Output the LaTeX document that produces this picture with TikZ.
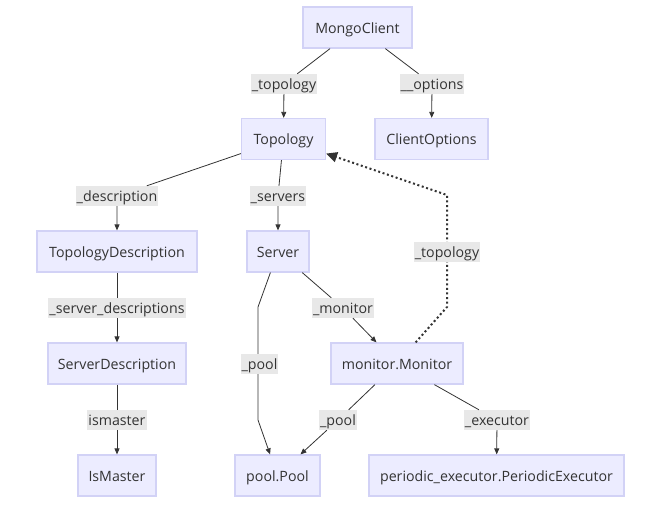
\documentclass[tikz,border=0pt]{standalone}
\usepackage{fontspec}
\setmainfont{Open Sans}
\usetikzlibrary{arrows.meta}
\definecolor{nodefill}{HTML}{ECECFF}
\definecolor{nodeline}{HTML}{D2D2F6}
\definecolor{labelbg}{HTML}{E8E8E8}
\definecolor{ink}{HTML}{333333}
\begin{document}
\begin{tikzpicture}[x=1pt,y=-1pt,
  every node/.style={font=\fontsize{14.2}{16}\selectfont, text=ink, text height=12.5pt, text depth=1.5pt},
  cls/.style={draw=nodeline, line width=1.2pt, fill=nodefill, minimum height=41pt, inner xsep=2pt, inner ysep=0pt},
  elabel/.style={fill=labelbg, inner xsep=1pt, inner ysep=0pt, minimum height=20pt},
  edge/.style={draw=ink, line width=0.8pt, -{Triangle[length=6pt,width=5pt]}},
  dotedge/.style={draw=ink, line width=2pt, dash pattern=on 2pt off 2.6pt, -{Triangle[length=11pt,width=10pt]}}
]
\useasboundingbox (0,0) rectangle (654,504);

% class nodes
\node[cls, minimum width=109pt] (mc) at (357.5,27.5) {MongoClient};
\node[cls, minimum width=84pt] (topo) at (283.5,139) {Topology};
\node[cls, minimum width=113pt] (copt) at (431.5,139) {ClientOptions};
\node[cls, minimum width=160pt] (tdesc) at (117,251.5) {TopologyDescription};
\node[cls, minimum width=62pt] (srv) at (278,251.5) {Server};
\node[cls, minimum width=138pt] (sdesc) at (117,363.5) {ServerDescription};
\node[cls, minimum width=132pt] (mon) at (397,363.5) {monitor.Monitor};
\node[cls, minimum width=78pt] (ism) at (117,475.5) {IsMaster};
\node[cls, minimum width=85pt] (pool) at (277.5,475.5) {pool.Pool};
\node[cls, minimum width=255pt] (pexec) at (496.5,475.5) {periodic\_executor.PeriodicExecutor};

% edge labels that are edge way points
\node[elabel] (lTopo) at (284,84) {\_topology};
\node[elabel] (lOpt) at (432,84) {\_\_options};
\node[elabel] (lDesc) at (117,196) {\_description};
\node[elabel] (lSrvs) at (278,196) {\_servers};
\node[elabel] (lSD) at (117,308) {\_server\_descriptions};
\node[elabel] (lIsm) at (117,420) {ismaster};
\node[elabel] (lMon) at (343,308) {\_monitor};
\node[elabel] (lMPool) at (338,420) {\_pool};
\node[elabel] (lExec) at (497,420) {\_executor};

% bend coordinates
\coordinate (p1) at (258,307);
\coordinate (p2) at (258,420);
\coordinate (d1) at (447,307);
\coordinate (d2) at (447,195);

% connectors
\draw[edge] (mc) -- (lTopo) -- (topo);
\draw[edge] (mc) -- (lOpt) -- (copt);
\draw[edge] (topo) -- (lDesc) -- (tdesc);
\draw[edge] (topo) -- (lSrvs) -- (srv);
\draw[edge] (tdesc) -- (lSD) -- (sdesc);
\draw[edge] (sdesc) -- (lIsm) -- (ism);
\draw[edge] (srv) -- (lMon) -- (mon);
\draw[edge] (srv) -- (p1) -- (p2) -- (pool);
\draw[edge] (mon) -- (lMPool) -- (pool);
\draw[edge] (mon) -- (lExec) -- (pexec);
\draw[dotedge] (mon) -- (d1) -- (d2) -- (topo);

% labels lying on passing connectors
\node[elabel] (lPool) at (259.5,364) {\_pool};
\node[elabel] (lBack) at (447,252) {\_topology};
\end{tikzpicture}
\end{document}
